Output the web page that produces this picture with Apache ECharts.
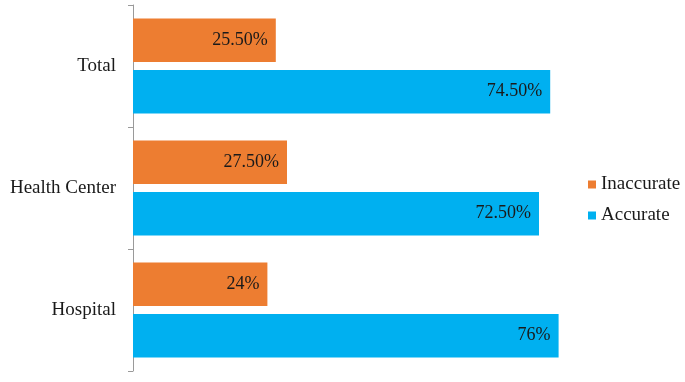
<!DOCTYPE html>
<html>
<head>
<meta charset="utf-8">
<script src="https://cdn.jsdelivr.net/npm/echarts@6/dist/echarts.min.js"></script>
<style>
  html, body { margin: 0; padding: 0; background: #fff; }
  #chart { width: 685px; height: 382px; }
</style>
</head>
<body>
<div id="chart"></div>
<script>
const categories = ['Total', 'Health Center', 'Hospital'];
const inaccurate = [25.5, 27.5, 24];
const accurate = [74.5, 72.5, 76];
const inaccurateLabels = ['25.50%', '27.50%', '24%'];
const accurateLabels = ['74.50%', '72.50%', '76%'];

const chart = echarts.init(document.getElementById('chart'));

const font = 'Liberation Serif';
const colors = {
    orange: '#ED7D31',
    blue: '#00B0F0',
    axis: '#9a9a9a'
};

function barLabel(texts) {
    return {
        show: true,
        position: 'insideRight',
        distance: 8,
        color: '#1a1a1a',
        fontFamily: font,
        fontSize: 18,
        formatter: p => texts[p.dataIndex]
    };
}

const option = {
    backgroundColor: '#fff',
    animation: false,
    grid: {
        left: 133,
        top: 5,
        width: 560,
        height: 366,
        outerBoundsMode: 'none'
    },
    legend: {
        orient: 'vertical',
        left: 583,
        top: 170,
        itemWidth: 8,
        itemHeight: 8,
        itemGap: 12,
        icon: 'rect',
        textStyle: { color: '#1a1a1a', fontFamily: font, fontSize: 19 },
        data: ['Inaccurate', 'Accurate']
    },
    xAxis: {
        type: 'value',
        min: 0,
        max: 100,
        show: false
    },
    yAxis: {
        type: 'category',
        inverse: true,
        data: categories,
        axisLine: { show: true, lineStyle: { color: colors.axis, width: 1 } },
        axisTick: { show: true, length: 5, lineStyle: { color: colors.axis } },
        axisLabel: { color: '#1a1a1a', fontFamily: font, fontSize: 19, margin: 17 }
    },
    series: [
        {
            name: 'Inaccurate',
            type: 'bar',
            data: inaccurate,
            barGap: '18%',
            barCategoryGap: '22%',
            itemStyle: { color: colors.orange },
            label: barLabel(inaccurateLabels)
        },
        {
            name: 'Accurate',
            type: 'bar',
            data: accurate,
            barGap: '18%',
            barCategoryGap: '22%',
            itemStyle: { color: colors.blue },
            label: barLabel(accurateLabels)
        }
    ]
};

chart.setOption(option);
</script>
</body>
</html>
